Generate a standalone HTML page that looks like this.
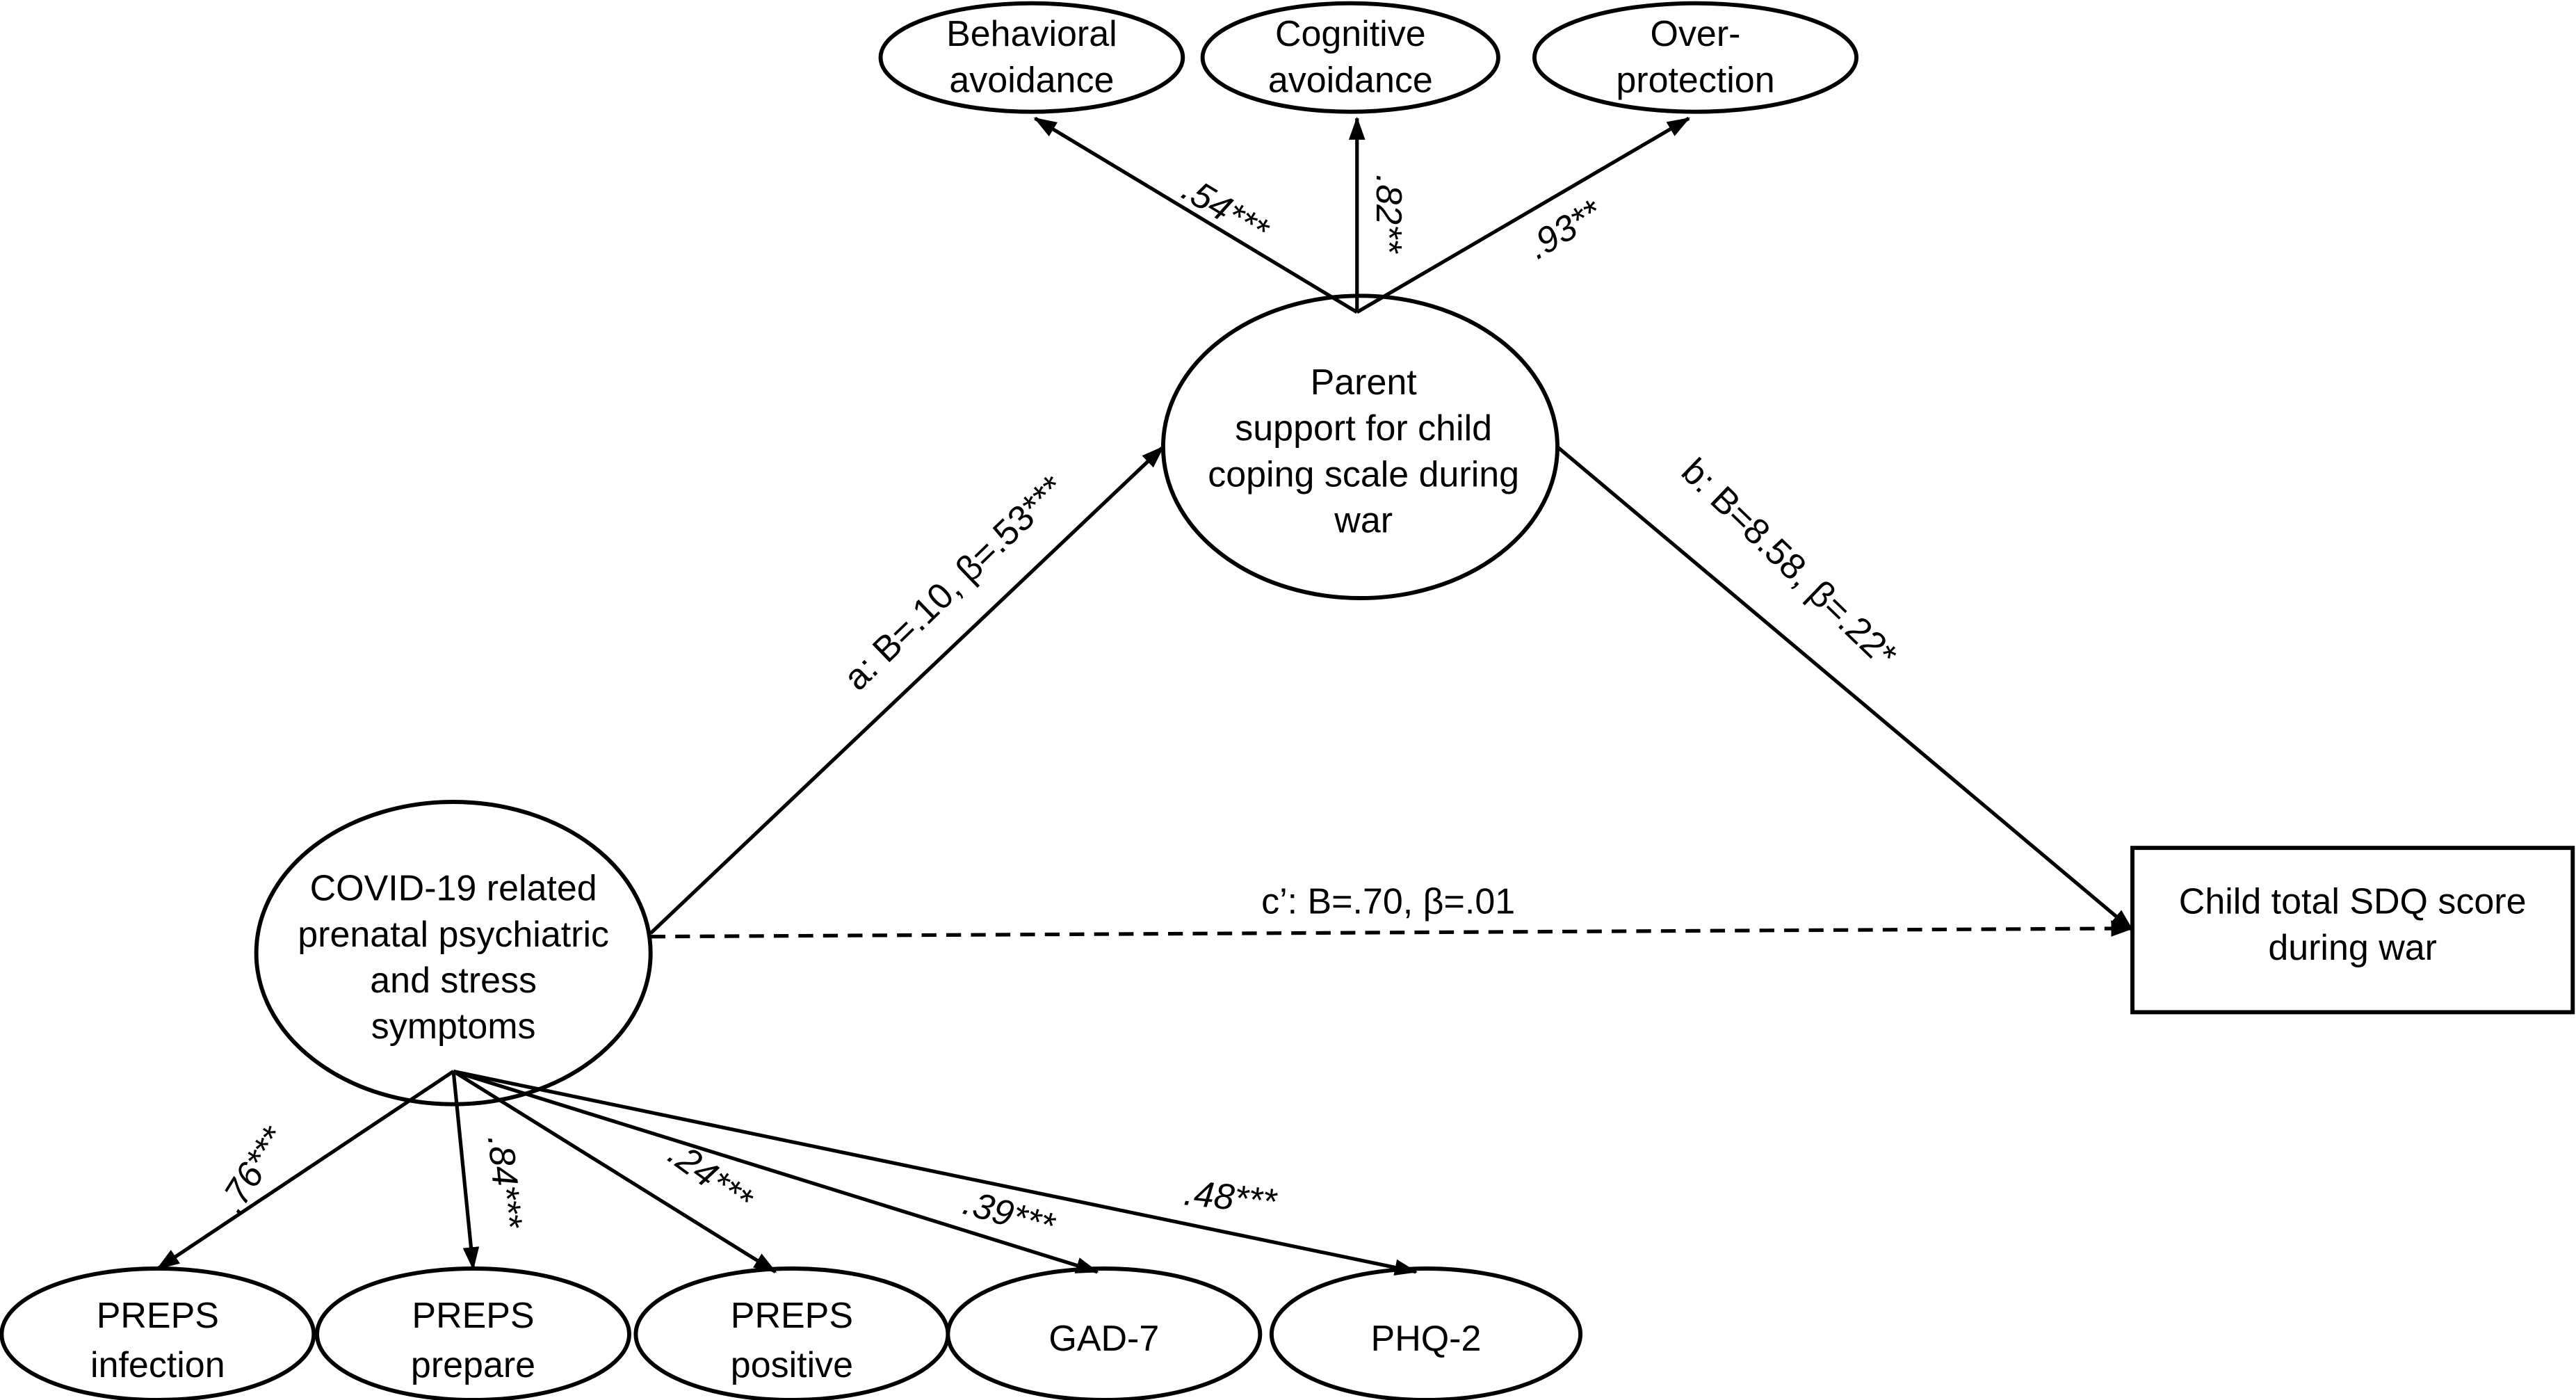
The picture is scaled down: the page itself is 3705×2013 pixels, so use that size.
<!DOCTYPE html>
<html><head><meta charset="utf-8"><style>
html,body{margin:0;padding:0;background:#fff;}
svg{display:block;}
text{font-family:"Liberation Sans Narrow","Liberation Sans",sans-serif;font-size:22px;fill:#000;}
.c{font-style:italic;}
</style></head><body>
<svg width="3705" height="2013" viewBox="0 0 1568 852" preserveAspectRatio="none" xmlns="http://www.w3.org/2000/svg">
<defs>
<marker id="b" markerWidth="14" markerHeight="12" refX="13" refY="6" orient="auto" markerUnits="userSpaceOnUse" viewBox="0 0 14 12"><path d="M0,1 L14,6 L0,11 z" fill="#000"/></marker></defs>
<g fill="#fff" stroke="#000" stroke-width="2.5">
<ellipse cx="628" cy="35" rx="92" ry="33"/>
<ellipse cx="822" cy="35" rx="90" ry="33"/>
<ellipse cx="1032" cy="35" rx="98" ry="33"/>
<ellipse cx="828" cy="272" rx="120" ry="92"/>
<ellipse cx="276" cy="580" rx="120" ry="92"/>
<rect x="1298" y="516" width="268" height="100"/>
<ellipse cx="96" cy="812" rx="95" ry="40"/>
<ellipse cx="288" cy="812" rx="95" ry="40"/>
<ellipse cx="482" cy="812" rx="95" ry="40"/>
<ellipse cx="672" cy="812" rx="95" ry="40"/>
<ellipse cx="868" cy="812" rx="94" ry="40"/>
</g>
<g stroke="#000" stroke-width="2.2" fill="none" marker-end="url(#b)">
<line x1="826" y1="190" x2="630" y2="72"/>
<line x1="826" y1="190" x2="826" y2="72"/>
<line x1="826" y1="190" x2="1028" y2="72"/>
<line x1="396" y1="568" x2="708" y2="272"/>
<line x1="948" y1="272" x2="1298" y2="566"/>
<line x1="396" y1="570" x2="1298" y2="565" stroke-dasharray="9,6"/>
<line x1="276" y1="652" x2="96" y2="772"/>
<line x1="276" y1="652" x2="288" y2="772"/>
<line x1="276" y1="652" x2="472" y2="774"/>
<line x1="276" y1="652" x2="668" y2="774"/>
<line x1="276" y1="652" x2="862" y2="774"/>
</g>
<g text-anchor="middle">
<text x="628" y="28">Behavioral</text><text x="628" y="56">avoidance</text>
<text x="822" y="28">Cognitive</text><text x="822" y="56">avoidance</text>
<text x="1032" y="28">Over-</text><text x="1032" y="56">protection</text>
<text x="830" y="240">Parent</text><text x="830" y="268">support for child</text><text x="830" y="296">coping scale during</text><text x="830" y="324">war</text>
<text x="276" y="548">COVID-19 related</text><text x="276" y="576">prenatal psychiatric</text><text x="276" y="604">and stress</text><text x="276" y="632">symptoms</text>
<text x="1432" y="556">Child total SDQ score</text><text x="1432" y="584">during war</text>
<text x="96" y="808">PREPS</text><text x="96" y="838">infection</text>
<text x="288" y="808">PREPS</text><text x="288" y="838">prepare</text>
<text x="482" y="808">PREPS</text><text x="482" y="838">positive</text>
<text x="672" y="822">GAD-7</text>
<text x="868" y="822">PHQ-2</text>
<text x="845" y="556">c’: B=.70, β=.01</text>
<text class="c" transform="translate(742,134) rotate(31)">.54***</text>
<text class="c" transform="translate(838,130) rotate(90)">.82**</text>
<text class="c" transform="translate(956,146) rotate(-31)">.93**</text>
<text transform="translate(586,360) rotate(-44)">a: B=.10, β=.53***</text>
<text transform="translate(1084,348) rotate(44)">b: B=8.58, β=.22*</text>
<text class="c" transform="translate(160,716) rotate(-58)">.76***</text>
<text class="c" transform="translate(300,720) rotate(84)">.84***</text>
<text class="c" transform="translate(428,722) rotate(36)">.24***</text>
<text class="c" transform="translate(612,746) rotate(16)">.39***</text>
<text class="c" transform="translate(748,736) rotate(6)">.48***</text>
</g>
</svg>
</body></html>
